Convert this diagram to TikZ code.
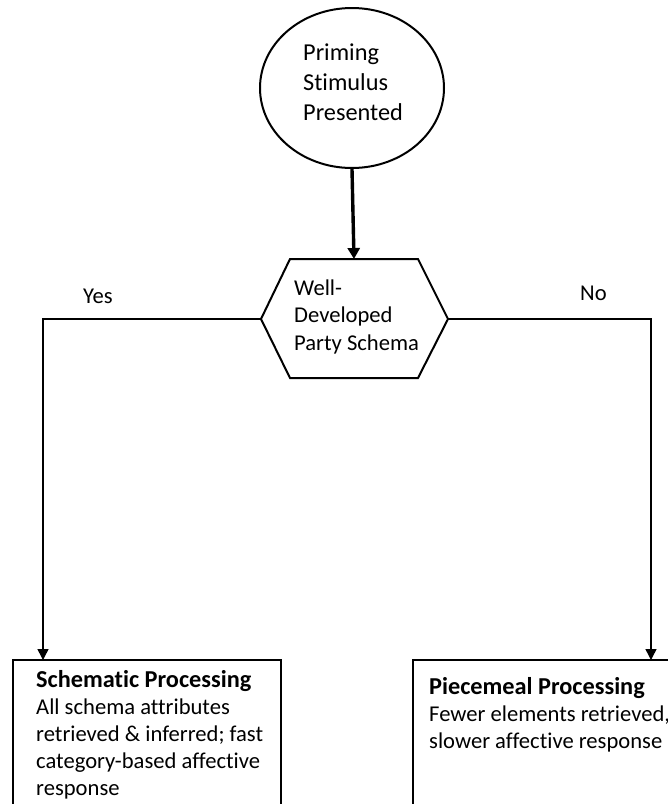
\documentclass[tikz,border=0pt]{standalone}
\usepackage{fontspec}
\setmainfont{Carlito}[Ligatures=NoCommon]
\usetikzlibrary{arrows.meta,shapes.geometric}
\tikzset{
  x=1pt, y=-1pt,
  txt/.style={align=left, inner sep=0pt, font=\fontsize{22.6}{27.2}\selectfont},
  boxtxt/.style={txt, font=\fontsize{22.6}{26.8}\selectfont},
  bigtxt/.style={txt, font=\fontsize{24.3}{29.7}\selectfont},
  flow/.style={line width=1.5pt, -{Triangle[width=11pt,length=11pt]}},
  mainflow/.style={line width=3.4pt, -{Triangle[width=12pt,length=11pt]}},
  outline/.style={draw, line width=2pt},
}
\newcommand{\boxtitle}[1]{{\bfseries\fontsize{24.3}{26.8}\selectfont #1}}
\begin{document}
\begin{tikzpicture}
\useasboundingbox (0,0) rectangle (668,804);
\clip (0,0) rectangle (668,804);

% start event (multi-line nodes are anchored at the baseline of their last line)
\node[ellipse, outline, minimum width=184pt, minimum height=160pt, inner sep=0pt] (prime) at (352,88) {};
\node[bigtxt, anchor=base west] (primetxt) at (303,120) {Priming\\Stimulus\\Presented};

% decision hexagon
\coordinate (hexL) at (261,319);
\coordinate (hexR) at (448,319);
\coordinate (hexT) at (354,259);
\draw[outline] (261,319) -- (290,259) -- (418,259) -- (448,319) -- (418,378) -- (290,378) -- cycle;
\node[txt, anchor=base west] (hextxt) at (294,350) {Well-\\Developed\\Party Schema};

% outcome boxes
\draw[outline] (13,660) rectangle (281,840);
\coordinate (yesin) at (43,660);
\node[boxtxt, anchor=base west] (yesbox) at (36,795) {\boxtitle{Schematic Processing}\\All schema attributes\\retrieved \& inferred; fast\\category-based affective\\response};

\draw[outline] (413,660) rectangle (700,840);
\coordinate (noin) at (651,660);
\node[boxtxt, anchor=base west] (nobox) at (429,748) {\boxtitle{Piecemeal Processing}\\Fewer elements retrieved,\\slower affective response};

% connectors
\draw[mainflow] (prime.south) -- (hexT);
\draw[flow] (hexL) -| (yesin);
\draw[flow] (hexR) -| (noin);

% branch labels
\node[txt, anchor=base west] (yes) at (83,303) {Yes};
\node[txt, anchor=base west] (no) at (580,300) {No};
\end{tikzpicture}
\end{document}
